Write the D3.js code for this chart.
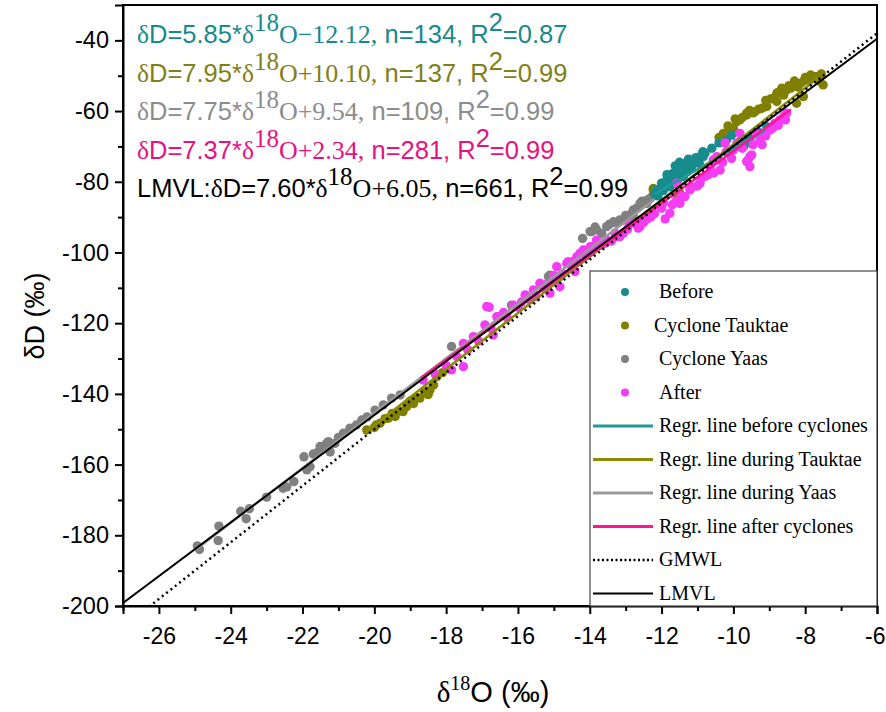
<!DOCTYPE html>
<html lang="en">
<head>
<meta charset="UTF-8">
<title>dD vs d18O</title>
<script src="https://cdn.jsdelivr.net/npm/d3@7"></script>
<style>
    body { margin: 0; background: #fff; }
    svg { display: block; }
    .sans { font-family: Arial, "Liberation Sans", sans-serif; }
    .serif { font-family: "Times New Roman", "Liberation Serif", serif; }
</style>
</head>
<body>
<div id="chart"></div>
<script>
    // data: [d18O, dD]
    const beforePts = [
        [-12.14,-82.3],[-12.0,-80.4],[-11.86,-79.5],[-11.67,-77.6],[-11.49,-75.7],[-11.30,-75.2],[-11.12,-74.3],
        [-10.93,-72.9],[-10.79,-71.9],[-11.39,-78.5],[-11.77,-81.4],[-11.58,-76.7],[-10.19,-68.2],[-10.05,-66.8],
        [-9.72,-70.1],[-9.54,-69.0],[-10.84,-72.9],[-9.91,-70.1],[-9.54,-67.7],[-9.07,-64.4],[-11.9,-81.0],
        [-11.7,-79.2],[-11.5,-77.5],[-11.4,-76.2],[-11.2,-76.0],[-11.0,-74.0],[-11.6,-78.2],[-11.25,-73.6],
        [-12.05,-82.0],[-10.4,-69.0],[-9.8,-68.5],
        [-12.1,-84.0],[-11.95,-82.5],[-11.8,-80.0],[-11.75,-78.0],[-11.65,-80.5],[-11.55,-79.5],[-11.45,-76.8],
        [-11.35,-74.8],[-11.3,-77.2],[-11.15,-75.5],[-11.05,-73.2],[-10.95,-74.8],[-10.85,-71.5],[-11.5,-74.5],
        [-11.62,-75.5],[-11.85,-78.0],[-12.18,-83.5],[-10.6,-70.5],[-9.65,-68.3],[-9.3,-66.0]
    ]
    const tauktaePts = [
        [-20.21,-150.2],[-19.84,-148.3],[-19.61,-146.9],[-19.42,-146.4],[-19.1,-143.6],[-18.91,-142.7],[-18.73,-141.2],
        [-18.45,-138.9],[-18.26,-135.1],[-17.98,-132.8],[-19.95,-148.8],[-19.3,-144.8],[-18.6,-139.5],[-19.0,-142.0],
        [-20.0,-149.5],[-19.7,-147.0],[-19.5,-145.5],[-19.2,-145.0],[-18.8,-141.0],[-18.5,-140.2],[-18.35,-137.5],
        [-18.1,-134.0],
        [-12.23,-82.3],[-12.23,-81.9],[-11.58,-83.7],[-11.49,-83.2],
        [-10.28,-66.3],[-10.05,-65.3],[-9.91,-63.0],[-10.0,-64.9],[-9.82,-62.5],[-9.63,-61.1],[-9.63,-60.6],
        [-9.45,-60.5],[-9.40,-60.2],[-9.07,-58.7],[-8.79,-57.3],[-8.79,-54.9],[-8.70,-54.5],[-8.52,-54.0],
        [-8.24,-52.2],[-8.24,-57.8],[-8.05,-55.9],[-7.96,-51.2],[-7.78,-50.2],[-7.68,-50.3],[-7.50,-52.6],
        [-8.4,-53.5],[-8.1,-52.0],[-7.9,-50.8],[-8.6,-55.5],[-9.2,-59.2],[-10.1,-65.8],
        [-10.4,-67.5],[-10.15,-64.2],[-9.95,-62.2],[-9.75,-61.8],[-9.55,-59.8],[-9.3,-59.5],[-9.1,-57.0],
        [-8.95,-56.5],[-8.85,-56.2],[-8.65,-53.5],[-8.45,-52.8],[-8.3,-51.5],[-8.2,-53.2],[-8.0,-50.5],
        [-7.85,-49.8],[-7.6,-51.5],[-7.55,-49.5]
    ]
    const yaasPts = [
        [-24.93,-183.0],[-24.87,-184.0],[-24.33,-177.4],[-24.35,-181.5],[-23.72,-173.2],[-23.57,-175.3],[-23.48,-172.5],
        [-23.0,-169.2],[-22.54,-166.7],[-22.44,-166.3],[-22.24,-164.8],[-21.96,-157.8],[-21.88,-161.5],[-21.79,-160.6],
        [-21.56,-156.4],[-21.44,-155.7],[-21.33,-154.0],[-21.23,-156.4],[-21.10,-154.0],[-21.51,-154.9],[-21.28,-153.5],
        [-20.86,-151.1],[-20.68,-149.7],[-20.35,-147.4],[-19.98,-144.6],[-19.75,-143.1],[-19.52,-141.2],[-19.28,-140.3],
        [-21.0,-152.3],[-20.5,-148.8],[-20.2,-146.5],[-21.7,-157.0],
        [-17.85,-126.6],[-16.18,-114.9],[-15.15,-106.8],[-15.11,-106.4],[-13.99,-94.1],[-13.81,-93.6],[-13.95,-94.1],
        [-13.67,-94.6],[-13.53,-92.7],[-13.34,-91.3],[-13.25,-91.7],[-13.16,-90.8],[-13.07,-90.8],[-12.83,-88.9],
        [-12.79,-89.4],[-12.79,-88.0],[-12.6,-86.1],[-12.51,-86.1],[-12.41,-85.2],[-12.41,-86.1],[-12.32,-84.7],
        [-12.14,-83.3],
        [-13.45,-92.0],[-13.0,-89.5],[-12.7,-87.5],[-12.55,-85.5],[-12.25,-84.0],[-13.85,-92.8],[-14.2,-96.0]
    ]
    const afterPts = [
        [-18.64,-136.1],[-17.85,-133.2],[-17.52,-132.3],[-17.52,-125.7],[-17.24,-123.8],[-16.92,-120.5],[-16.80,-115.5],
        [-16.59,-118.2],[-16.87,-115.3],[-16.69,-123.3],[-16.55,-118.2],[-16.13,-114.9],[-15.66,-113.4],[-15.57,-110.6],
        [-15.39,-108.7],[-15.11,-111.5],[-14.83,-109.7],[-15.02,-108.3],[-14.92,-104.0],[-14.64,-103.1],[-14.6,-102.6],
        [-14.36,-101.2],[-14.41,-105.4],[-14.27,-100.2],[-14.18,-99.3],[-13.99,-98.4],[-13.9,-98.4],[-13.81,-96.5],
        [-13.53,-96.5],[-13.25,-95.5],[-13.16,-95.5],[-13.07,-94.6],[-12.83,-91.7],[-12.65,-92.7],[-12.65,-93.1],
        [-12.6,-92.7],[-11.77,-88.9],[-11.49,-86.1],[-11.35,-84.2],[-11.21,-82.3],[-10.93,-80.4],[-11.58,-80.4],
        [-10.65,-75.7],[-10.37,-76.7],[-10.46,-72.9],[-10.23,-69.0],[-10.05,-73.4],[-9.63,-74.3],[-9.49,-72.4],
        [-10.56,-73.8],[-10.0,-71.0],[-9.54,-72.9],[-9.26,-68.2],[-8.98,-65.4],[-8.71,-62.5],[-8.52,-60.6],
        [-9.54,-75.7],[-9.82,-66.3],[-9.59,-73.8],
        [-16.4,-117.0],[-16.0,-115.5],[-15.8,-112.0],[-15.3,-110.0],[-15.0,-106.5],[-14.75,-106.0],[-14.5,-104.0],
        [-14.1,-101.0],[-13.7,-98.0],[-13.4,-96.8],[-12.95,-93.5],[-12.4,-90.5],[-12.2,-89.0],[-12.0,-87.5],
        [-11.9,-90.5],[-11.6,-85.5],[-11.0,-81.2],[-10.8,-78.5],[-10.7,-78.0],[-10.2,-71.5],[-9.9,-69.0],
        [-9.35,-66.5],[-9.1,-67.0],[-8.85,-63.5],[-8.6,-61.5],
        [-18.3,-134.5],[-18.0,-132.0],[-17.7,-129.5],[-17.4,-127.5],[-17.1,-125.0],[-16.75,-121.5],[-16.3,-118.5],
        [-15.9,-114.0],[-15.5,-112.5],[-15.2,-109.0],[-14.85,-107.0],[-14.45,-102.5],[-14.0,-100.0],[-13.6,-97.5],
        [-13.3,-94.5],[-12.9,-92.0],[-12.5,-91.5],[-12.3,-90.0],[-11.95,-86.0],[-11.7,-86.5],[-11.45,-84.0],
        [-11.15,-81.5],[-10.9,-79.0],[-10.55,-77.5],[-10.3,-74.5],[-10.1,-72.0],[-9.75,-70.5],[-9.45,-69.5],
        [-9.2,-69.5],[-8.9,-64.8],[-8.75,-64.0],[-8.55,-62.5]
    ]

    // regression lines: slope, intercept, x range
    const regrLines = [
        {name: "before", slope: 5.85, icpt: -12.12, from: -12.2, to: -9.1},
        {name: "tauktae", slope: 7.95, icpt: 10.10, from: -20.3, to: -7.6},
        {name: "yaas", slope: 7.75, icpt: 9.54, from: -25.0, to: -12.2},
        {name: "after", slope: 7.37, icpt: 2.34, from: -18.7, to: -8.4}
    ]
    const gmwl = {slope: 8, icpt: 10}
    const lmvl = {slope: 7.60, icpt: 6.05}

    const xTicks = [-26, -24, -22, -20, -18, -16, -14, -12, -10, -8, -6]
    const yTicks = [-40, -60, -80, -100, -120, -140, -160, -180, -200]

    const ptColors = {before: "#178c8c", tauktae: "#808000", yaas: "#808080", after: "#f53cf5"}
    const lineColors = {before: "#1f9a9a", tauktae: "#8c8c00", yaas: "#9a9a9a", after: "#ff1493"}

    const W = 886, H = 712
    const margin = {left: 123, right: 9, top: 5, bottom: 106}

    const x = d3.scaleLinear().domain([-27, -6]).range([margin.left, W - margin.right])
    const y = d3.scaleLinear().domain([-200, -30]).range([H - margin.bottom, margin.top])

    const svg = d3.select("#chart").append("svg")
        .attr("width", W)
        .attr("height", H)

    svg.append("clipPath").attr("id", "plot-clip")
        .append("rect")
        .attr("x", x(-27)).attr("y", y(-30))
        .attr("width", x(-6) - x(-27)).attr("height", y(-200) - y(-30))

    // points
    const layers = [["yaas", yaasPts], ["tauktae", tauktaePts], ["before", beforePts], ["after", afterPts]]
    layers.forEach(([key, pts]) => {
        svg.append("g").selectAll("circle")
            .data(pts)
            .enter().append("circle")
            .attr("cx", (d) => x(d[0]))
            .attr("cy", (d) => y(d[1]))
            .attr("r", 4.7)
            .attr("fill", ptColors[key])
    })

    const lineG = svg.append("g").attr("clip-path", "url(#plot-clip)")

    regrLines.forEach((r) => {
        lineG.append("line")
            .attr("x1", x(r.from)).attr("y1", y(r.slope * r.from + r.icpt))
            .attr("x2", x(r.to)).attr("y2", y(r.slope * r.to + r.icpt))
            .attr("stroke", lineColors[r.name])
            .attr("stroke-width", 2.5)
    })

    lineG.append("line")
        .attr("x1", x(-27)).attr("y1", y(gmwl.slope * -27 + gmwl.icpt))
        .attr("x2", x(-6)).attr("y2", y(gmwl.slope * -6 + gmwl.icpt))
        .attr("stroke", "#000")
        .attr("stroke-width", 2.5)
        .attr("stroke-dasharray", "2,3.5")

    lineG.append("line")
        .attr("x1", x(-27.2)).attr("y1", y(lmvl.slope * -27.2 + lmvl.icpt))
        .attr("x2", x(-6)).attr("y2", y(lmvl.slope * -6 + lmvl.icpt))
        .attr("stroke", "#000")
        .attr("stroke-width", 2)

    // axes
    const minorX = d3.range(-27, -6, 2)
    const minorY = d3.range(-190, -30, 20)

    const xAxis = svg.append("g")
        .attr("transform", `translate(0, ${y(-200)})`)
        .call(d3.axisBottom(x).tickValues(xTicks).tickSize(8).tickPadding(14).tickFormat((d) => String(d)))
    svg.append("g")
        .attr("transform", `translate(0, ${y(-200)})`)
        .call(d3.axisBottom(x).tickValues(minorX).tickSize(5).tickFormat(""))
        .select(".domain").remove()

    const yAxis = svg.append("g")
        .attr("transform", `translate(${x(-27)}, 0)`)
        .call(d3.axisLeft(y).tickValues(yTicks).tickSize(8).tickPadding(6).tickFormat((d) => String(d)))
    svg.append("g")
        .attr("transform", `translate(${x(-27)}, 0)`)
        .call(d3.axisLeft(y).tickValues(minorY).tickSize(5).tickFormat(""))
        .select(".domain").remove()

    svg.selectAll(".tick line").attr("stroke", "#000").attr("stroke-width", 2)
    svg.selectAll(".domain").attr("stroke", "#000").attr("stroke-width", 2)
    xAxis.selectAll("text").attr("class", "sans").style("font-size", "23px").attr("fill", "#000")
    yAxis.selectAll("text").attr("class", "sans").style("font-size", "23.5px").attr("fill", "#000")
    // last label sits at the window edge
    xAxis.selectAll(".tick text").filter((d) => d === -6)
        .attr("text-anchor", "end").attr("x", 8)

    // frame
    svg.append("rect")
        .attr("x", x(-27)).attr("y", y(-30))
        .attr("width", x(-6) - x(-27)).attr("height", y(-200) - y(-30))
        .attr("fill", "none")
        .attr("stroke", "#000")
        .attr("stroke-width", 2)

    // axis titles
    const xTitle = svg.append("text")
        .attr("x", 493).attr("y", 702)
        .attr("text-anchor", "middle")
        .style("font-size", "29px")
    xTitle.append("tspan").attr("class", "serif").text("δ")
    xTitle.append("tspan").attr("class", "serif").attr("dy", -12).style("font-size", "20px").text("18")
    xTitle.append("tspan").attr("class", "sans").attr("dy", 12).text("O (‰)")

    svg.append("text")
        .attr("class", "sans")
        .attr("transform", "translate(44, 316) rotate(-90)")
        .attr("text-anchor", "middle")
        .style("font-size", "27px")
        .text("δD (‰)")

    // equations
    const equations = [
        {color: "#178a8a", a: "5.85", b: "O\u221212.12,", n: "134", r2: "0.87", pre: ""},
        {color: "#80801a", a: "7.95", b: "O+10.10,", n: "137", r2: "0.99", pre: ""},
        {color: "#8c8c8c", a: "7.75", b: "O+9.54,", n: "109", r2: "0.99", pre: ""},
        {color: "#e5127f", a: "7.37", b: "O+2.34,", n: "281", r2: "0.99", pre: ""},
        {color: "#000000", a: "7.60", b: "O+6.05,", n: "661", r2: "0.99", pre: "LMVL:"}
    ]

    equations.forEach((eq, i) => {
        const t = svg.append("text")
            .attr("x", 137).attr("y", 43 + i * 38.5)
            .attr("fill", eq.color)
            .style("font-size", "25.5px")
        if (eq.pre) t.append("tspan").attr("class", "sans").text(eq.pre)
        t.append("tspan").attr("class", "serif").text("δ")
        t.append("tspan").attr("class", "sans").text(`D=${eq.a}*`)
        t.append("tspan").attr("class", "serif").text("δ")
        t.append("tspan").attr("class", "serif").attr("dy", -12).style("font-size", "25px").text("18")
        t.append("tspan").attr("class", "serif").attr("dy", 12).style("font-size", "26px").text(eq.b)
        t.append("tspan").attr("class", "sans").text(` n=${eq.n}, R`)
        t.append("tspan").attr("class", "sans").attr("dy", -12).text("2")
        t.append("tspan").attr("class", "sans").attr("dy", 12).text(`=${eq.r2}`)
    })

    // legend
    const legendItems = [
        {type: "pt", key: "before", label: "Before"},
        {type: "pt", key: "tauktae", label: "Cyclone Tauktae"},
        {type: "pt", key: "yaas", label: "Cyclone Yaas"},
        {type: "pt", key: "after", label: "After"},
        {type: "line", key: "before", label: "Regr. line before cyclones"},
        {type: "line", key: "tauktae", label: "Regr. line during Tauktae"},
        {type: "line", key: "yaas", label: "Regr. line during Yaas"},
        {type: "line", key: "after", label: "Regr. line after cyclones"},
        {type: "dot", label: "GMWL"},
        {type: "solid", label: "LMVL"}
    ]

    const lgX = 590, lgY = 271
    svg.append("rect")
        .attr("x", lgX).attr("y", lgY)
        .attr("width", x(-6) - lgX).attr("height", y(-200) - lgY)
        .attr("fill", "#fff")
        .attr("stroke", "#444")
        .attr("stroke-width", 1.2)

    const lg = svg.append("g")
    legendItems.forEach((d, i) => {
        const cy = lgY + 21 + i * 33.5
        if (d.type === "pt") {
            lg.append("circle").attr("cx", lgX + 35).attr("cy", cy).attr("r", 4).attr("fill", ptColors[d.key])
        } else {
            const ln = lg.append("line")
                .attr("x1", lgX + 3).attr("x2", lgX + 63)
                .attr("y1", cy).attr("y2", cy)
            if (d.type === "line") {
                ln.attr("stroke", lineColors[d.key]).attr("stroke-width", 3)
            } else if (d.type === "dot") {
                ln.attr("stroke", "#000").attr("stroke-width", 2.5).attr("stroke-dasharray", "2,2.5")
            } else {
                ln.attr("stroke", "#000").attr("stroke-width", 2)
            }
        }
        lg.append("text")
            .attr("class", "serif")
            .attr("x", d.key === "tauktae" && d.type === "pt" ? lgX + 64 : lgX + 69)
            .attr("y", cy + 6)
            .style("font-size", "20px")
            .attr("fill", "#000")
            .text(d.label)
    })
</script>
</body>
</html>
